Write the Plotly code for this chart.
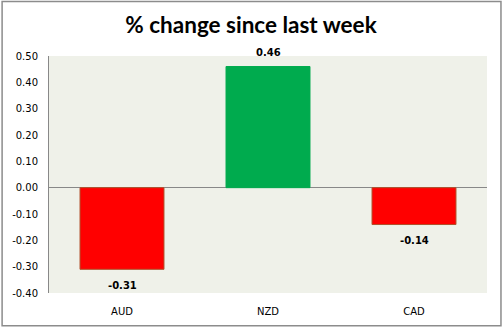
import plotly.graph_objects as go

categories = ["AUD", "NZD", "CAD"]
values = [-0.31, 0.46, -0.14]
value_labels = ["-0.31", "0.46", "-0.14"]
y_tick_values = [-0.4, -0.3, -0.2, -0.1, 0.0, 0.1, 0.2, 0.3, 0.4, 0.5]
y_tick_labels = ["-0.40", "-0.30", "-0.20", "-0.10", "0.00", "0.10", "0.20", "0.30", "0.40", "0.50"]
title_text = "% change since last week"

W, H = 502, 329
ml, mr, mt, mb = 48, 15, 56, 34

fill_colors = ["#FF0000" if v < 0 else "#00AB4E" for v in values]
line_colors = ["#B0502A" if v < 0 else "#00AB4E" for v in values]

fig = go.Figure()
fig.add_trace(go.Bar(
    x=categories, y=values,
    marker=dict(color=fill_colors, line=dict(color=line_colors, width=1)),
    width=0.575,
    hoverinfo="skip",
))

for c, v, t in zip(categories, values, value_labels):
    fig.add_annotation(x=c, y=v, text="<b>" + t + "</b>", showarrow=False,
                       yanchor="middle", yshift=(14 if v >= 0 else -16),
                       font=dict(family="DejaVu Sans", size=10, color="#000000"))

pw = W - ml - mr
ph = H - mt - mb
fig.add_shape(type="rect", xref="paper", yref="paper",
              x0=-(ml - 1) / pw, x1=1 + (mr - 1) / pw,
              y0=-(mb - 1) / ph, y1=1 + (mt - 1) / ph,
              line=dict(color="#8C8C8C", width=1.5), layer="below")

fig.update_layout(
    width=W, height=H,
    margin=dict(l=ml, r=mr, t=mt, b=mb, pad=0),
    paper_bgcolor="#FFFFFF",
    plot_bgcolor="#EFF1E9",
    showlegend=False,
    title=dict(text="<b>" + title_text + "</b>", x=0.5, xref="container", xanchor="center",
               y=1 - 25 / H, yanchor="middle",
               font=dict(family="Lato", size=22.5, color="#000000")),
    bargap=0.425,
    xaxis=dict(showline=False, showgrid=False, zeroline=False, ticks="",
               tickfont=dict(family="DejaVu Sans", size=10, color="#000000"),
               ticklabelstandoff=11),
    yaxis=dict(range=[-0.4, 0.5], tickvals=y_tick_values, ticktext=y_tick_labels,
               showgrid=False, zeroline=True, zerolinecolor="#888888", zerolinewidth=1,
               showline=True, linecolor="#888888", linewidth=1, ticks="",
               tickfont=dict(family="DejaVu Sans", size=10, color="#000000"),
               ticklabelstandoff=8),
)

fig.write_html("out.html")
